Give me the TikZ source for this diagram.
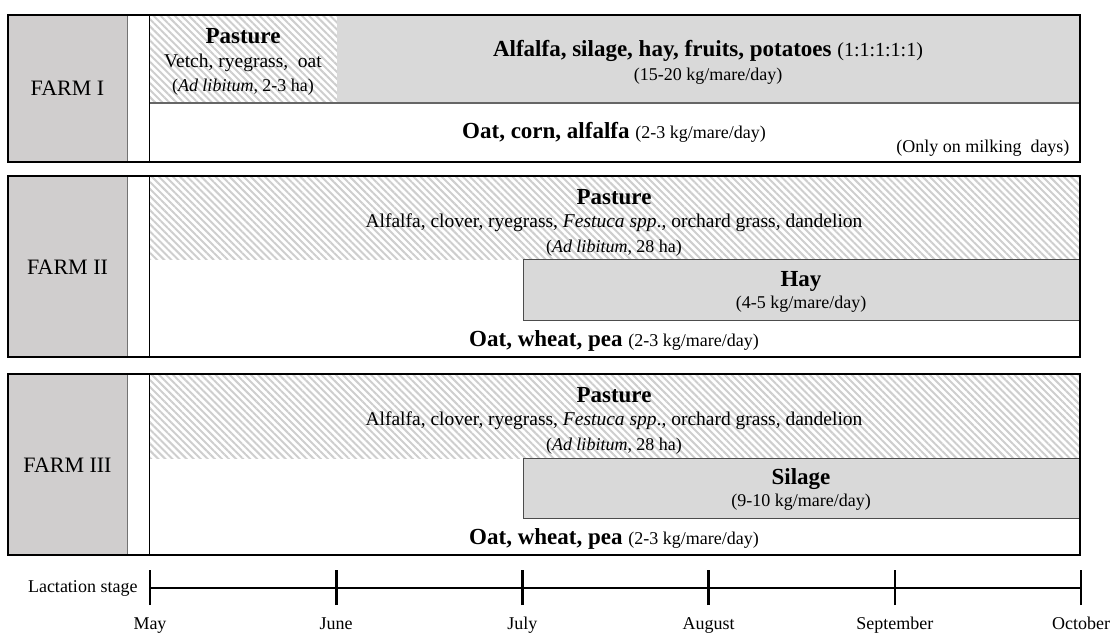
\documentclass[tikz,border=0pt]{standalone}
\usepackage{fontspec}
\setmainfont{Liberation Serif}
\usetikzlibrary{patterns.meta}
\usepackage{xcolor}

\definecolor{labelgray}{RGB}{208,206,206}
\definecolor{feedgray}{RGB}{217,217,217}
\definecolor{hatchgray}{RGB}{206,206,206}

\tikzset{
  pasture/.style={pattern={Lines[angle=-45,distance=5pt,line width=2pt]}, pattern color=hatchgray},
  farmbox/.style={draw=black, line width=2.6pt},
  colline/.style={draw=black!55, line width=1pt},
  divline/.style={draw=black!60, line width=1.2pt},
  feedbox/.style={fill=feedgray, draw=black!70, line width=1pt},
  farmlabel/.style={font=\fontsize{22}{26}\selectfont},
  titletxt/.style={font=\fontsize{23}{27}\selectfont\bfseries},
  plaintxt/.style={font=\fontsize{19.5}{23}\selectfont},
  smalltxt/.style={font=\fontsize{18}{22}\selectfont},
  monthtick/.style={draw=black, line width=2.6pt},
}
\newcommand{\amount}[1]{{\fontsize{18}{22}\selectfont\mdseries #1}}

\begin{document}
\begin{tikzpicture}[x=1pt,y=1pt]
\useasboundingbox (0,0) rectangle (1111,633);

% FARM I
\begin{scope}[yshift=471pt]{
\fill[labelgray] (8,0) rectangle (127,147);
\fill[pasture] (149,59) rectangle (337,147);
\fill[feedgray] (337,59) rectangle (1080,147);
\draw[divline] (149,59)--++(931,0);
\draw[colline] (127,0)--++(0,147);
\draw[black, line width=0.9pt] (149,0)--++(0,147);
\draw[farmbox] (8,0) rectangle (1080,147);

\node (farmI) at (67.5,74) [farmlabel] {FARM I};

\node (pastI) at (243,126) [titletxt] {Pasture};
\node (pastIsp) at (243,99) [plaintxt] {Vetch, ryegrass,\ \ oat};
\node (pastIamt) at (243,75) [smalltxt] {(\textit{Ad libitum}, 2-3 ha)};

\node (mixI) at (708,111) [titletxt] {Alfalfa, silage, hay, fruits, potatoes {\fontsize{20}{24}\selectfont\mdseries (1:1:1:1:1)}};
\node (mixIamt) at (708,86) [smalltxt] {(15-20 kg/mare/day)};

\node (concI) at (614,30) [titletxt] {Oat, corn, alfalfa \amount{(2-3 kg/mare/day)}};
\node (milkI) at (1073,14) [smalltxt, anchor=east] {(Only on milking\ \ days)};
} \end{scope}

% FARM II
\begin{scope}[yshift=276pt]{
\fill[labelgray] (8,0) rectangle (127,181);
\fill[pasture] (149,97) rectangle (1080,181);
\draw[feedbox] (523,37) rectangle (1080,97);
\draw[colline] (127,0)--++(0,181);
\draw[black, line width=0.9pt] (149,0)--++(0,181);
\draw[farmbox] (8,0) rectangle (1080,181);

\node (farmII) at (67.5,90) [farmlabel] {FARM II};

\node (pastII) at (614,160) [titletxt] {Pasture};
\node (pastIIsp) at (614,134) [plaintxt] {Alfalfa, clover, ryegrass,\ \textit{Festuca spp}., orchard grass, dandelion};
\node (pastIIamt) at (614,109) [smalltxt] {(\textit{Ad libitum}, 28 ha)};

\node (hayII) at (801,76) [titletxt] {Hay};
\node (hayIIamt) at (801,53) [smalltxt] {(4-5 kg/mare/day)};

\node (concII) at (614,16) [titletxt] {Oat, wheat, pea \amount{(2-3 kg/mare/day)}};
} \end{scope}

% FARM III
\begin{scope}[yshift=78pt]{
\fill[labelgray] (8,0) rectangle (127,181);
\fill[pasture] (149,97) rectangle (1080,181);
\draw[feedbox] (523,37) rectangle (1080,97);
\draw[colline] (127,0)--++(0,181);
\draw[black, line width=0.9pt] (149,0)--++(0,181);
\draw[farmbox] (8,0) rectangle (1080,181);

\node (farmIII) at (67.5,90) [farmlabel] {FARM III};

\node (pastIII) at (614,160) [titletxt] {Pasture};
\node (pastIIIsp) at (614,134) [plaintxt] {Alfalfa, clover, ryegrass,\ \textit{Festuca spp}., orchard grass, dandelion};
\node (pastIIIamt) at (614,109) [smalltxt] {(\textit{Ad libitum}, 28 ha)};

\node (silIII) at (801,76) [titletxt] {Silage};
\node (silIIIamt) at (801,53) [smalltxt] {(9-10 kg/mare/day)};

\node (concIII) at (614,16) [titletxt] {Oat, wheat, pea \amount{(2-3 kg/mare/day)}};
} \end{scope}

% lactation stage
\draw[black, line width=2.4pt] (150,45) -- (1081,45);
\foreach \m [count=\i from 0] in {May,June,July,August,September,October}{
  \draw[monthtick] ({150+186.2*\i},28) --++(0,35);
  \node (month\i) at ({150+186.2*\i},4) [smalltxt, anchor=base] {\m};
}
\node (stage) at (141,45) [smalltxt, anchor=east] {Lactation stage};

\end{tikzpicture}
\end{document}
